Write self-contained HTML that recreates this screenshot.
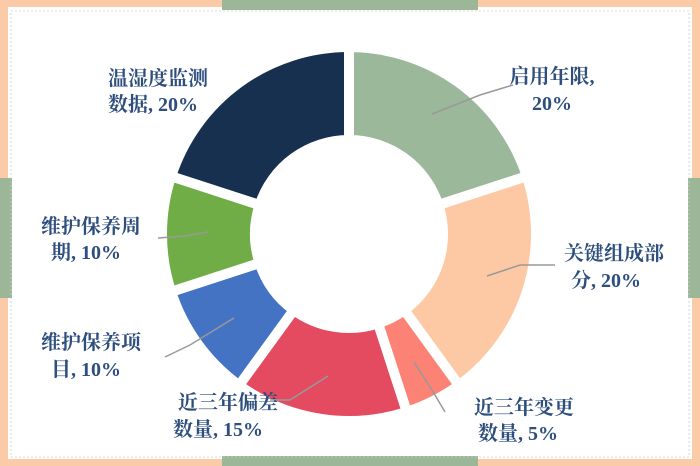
<!DOCTYPE html>
<html><head><meta charset="utf-8"><style>
html,body{margin:0;padding:0;background:#fff;}
svg{display:block}
text{font-family:"Liberation Serif","Noto Serif CJK SC",serif;font-weight:bold;font-size:20px;fill:#2e4f7e;text-anchor:middle}
</style></head><body>
<svg width="700" height="466" viewBox="0 0 700 466">
<rect x="0" y="0" width="700" height="466" fill="#fff"/>
<rect x="0" y="0" width="222" height="7" fill="#fbcaa6"/>
<rect x="0" y="0" width="8" height="178" fill="#fbcaa6"/>
<rect x="222" y="0" width="256" height="10" fill="#9bb798"/>
<rect x="478" y="0" width="222" height="7" fill="#fbcaa6"/>
<rect x="692" y="0" width="8" height="178" fill="#fbcaa6"/>
<rect x="0" y="178" width="12" height="120" fill="#9bb798"/>
<rect x="688" y="178" width="12" height="120" fill="#9bb798"/>
<rect x="0" y="298" width="8" height="168" fill="#fbcaa6"/>
<rect x="692" y="298" width="8" height="168" fill="#fbcaa6"/>
<rect x="0" y="459" width="222" height="7" fill="#fbcaa6"/>
<rect x="222" y="456" width="256" height="10" fill="#9bb798"/>
<rect x="478" y="459" width="222" height="7" fill="#fbcaa6"/>
<rect x="11" y="11" width="678" height="446" fill="none" stroke="#ccc" stroke-dasharray="2,2" stroke-width="0.8"/>
<g id="donut" stroke="#fff" stroke-width="10"></g>
<g stroke="#999" stroke-width="1.5" fill="none">
<polyline points="513,85 480,95 432,114"/>
<polyline points="555,265 520,265 487,276"/>
<polyline points="445,412 432,390 414,362"/>
<polyline points="270,400 290,400 328,376"/>
<polyline points="165,357 190,345 234,318"/>
<polyline points="158,238 185,236 208,232"/>
</g>
<text x="552" y="83">启用年限,</text>
<text x="552" y="110">20%</text>
<text x="614" y="260">关键组成部</text>
<text x="606" y="287">分, 20%</text>
<text x="524" y="414">近三年变更</text>
<text x="518" y="440">数量, 5%</text>
<text x="228" y="409">近三年偏差</text>
<text x="218" y="436">数量, 15%</text>
<text x="91" y="349">维护保养项</text>
<text x="86" y="376">目, 10%</text>
<text x="91" y="233">维护保养周</text>
<text x="86" y="259">期, 10%</text>
<text x="158" y="85">温湿度监测</text>
<text x="153" y="111">数据, 20%</text>
</svg>
<script>
var cx=349,cy=234,R=187,r=94;
var segs=[[0,72,"#9cb89a"],[72,144,"#fcc9a4"],[144,162,"#fc8275"],[162,216,"#e44a60"],[216,252,"#4573c4"],[252,288,"#70ad47"],[288,360,"#17304f"]];
function p(a,rad){a=a*Math.PI/180;return [cx+rad*Math.sin(a),cy-rad*Math.cos(a)];}
var g=document.getElementById("donut"),h="";
segs.forEach(function(s){var a=p(s[0],R),b=p(s[1],R),c=p(s[1],r),d=p(s[0],r),l=(s[1]-s[0])>180?1:0;
h+='<path fill="'+s[2]+'" d="M'+a+' A'+R+','+R+' 0 '+l+' 1 '+b+' L'+c+' A'+r+','+r+' 0 '+l+' 0 '+d+' Z"/>';});
g.innerHTML=h;
</script>
</body></html>
